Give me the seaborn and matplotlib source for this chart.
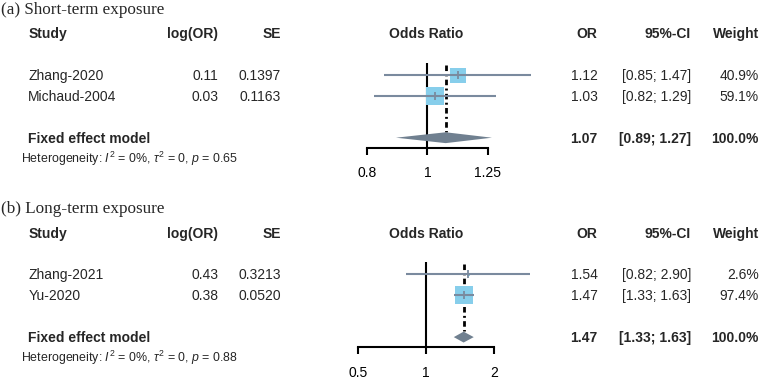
import numpy as np
import pandas as pd
import seaborn as sns
import matplotlib.pyplot as plt
from matplotlib import transforms
from matplotlib.ticker import NullLocator

# ---- data: (a) short-term exposure ----
a_title = "(a) Short-term exposure"
a_studies = ["Zhang-2020", "Michaud-2004"]
a_log_or = ["0.11", "0.03"]
a_se = ["0.1397", "0.1163"]
a_or = [1.12, 1.03]
a_lo = [0.85, 0.82]
a_hi = [1.47, 1.29]
a_weight = [40.9, 59.1]
a_fixed = [1.07, 0.89, 1.27]   # OR, lower, upper
a_p = "0.65"
a_ticks = [0.8, 1, 1.25]
a_tick_labels = ["0.8", "1", "1.25"]

# ---- data: (b) long-term exposure ----
b_title = "(b) Long-term exposure"
b_studies = ["Zhang-2021", "Yu-2020"]
b_log_or = ["0.43", "0.38"]
b_se = ["0.3213", "0.0520"]
b_or = [1.54, 1.47]
b_lo = [0.82, 1.33]
b_hi = [2.90, 1.63]
b_weight = [2.6, 97.4]
b_fixed = [1.47, 1.33, 1.63]
b_p = "0.88"
b_ticks = [0.5, 1, 2]
b_tick_labels = ["0.5", "1", "2"]

NULL_OR = 1

# ---- styling ----
W, H = 762, 379
ROW_PX = 20.88
SQUARE_COLOR = "#87CEEB"
LINE_COLOR = "#7A8A9E"
DIAMOND_COLOR = "#708090"
MAX_SQUARE_S = 170

sns.set_style("white")
plt.rcParams["font.family"] = ["Liberation Sans", "DejaVu Sans"]
plt.rcParams["mathtext.fontset"] = "custom"
plt.rcParams["mathtext.rm"] = "Liberation Sans"
plt.rcParams["mathtext.it"] = "Liberation Sans:italic"
plt.rcParams["lines.scale_dashes"] = False

fig = plt.figure(figsize=(W / 100, H / 100), dpi=100)

# column x positions in pixels
X_STUDY = 28.3
X_HET = 20.7
X_LOG = 218
X_SE = 281
X_FOREST = 426
X_OR = 597.5
X_CI = 691
X_WEIGHT = 759


def draw_panel(top_px, px_per_unit, one_px, title, studies, log_or, se, est, lo, hi,
               weight, fixed, p_val, ticks, tick_labels):
    left_px, right_px = 340, 545
    bottom_row = 5.48
    ax = fig.add_axes([left_px / W,
                       (H - (top_px + bottom_row * ROW_PX)) / H,
                       (right_px - left_px) / W,
                       (bottom_row + 0.5) * ROW_PX / H])
    ax.set_xscale("log")

    rows = [2 + i for i in range(len(studies))]
    fixed_row = rows[-1] + 2

    # null line and pooled estimate line
    ax.vlines(NULL_OR, 1.42, bottom_row, color="black", lw=1.5, zorder=1)
    ax.plot([fixed[0], fixed[0]], [1.5, fixed_row - 0.27], color="black", lw=2.0,
            dashes=[4.0, 2.4, 1.4, 2.4], zorder=1)

    df = pd.DataFrame({"or": est, "row": rows, "weight": weight})
    sizes = {w: MAX_SQUARE_S * w / max(weight) for w in weight}
    sns.scatterplot(data=df, x="or", y="row", size="weight", sizes=sizes, marker="s",
                    color=SQUARE_COLOR, linewidth=0, legend=False, ax=ax, zorder=2)
    ax.hlines(rows, lo, hi, color=LINE_COLOR, lw=1.5, zorder=3)
    ax.scatter(est, rows, marker="|", s=30, color=LINE_COLOR, linewidths=1.3, zorder=4)

    # diamond for fixed effect model
    h = 0.26
    ax.fill([fixed[1], fixed[0], fixed[2], fixed[0]],
            [fixed_row, fixed_row - h, fixed_row, fixed_row + h],
            color=DIAMOND_COLOR, lw=0, zorder=2)

    ax.set_xlim(np.exp((left_px - one_px) / px_per_unit),
                np.exp((right_px - one_px) / px_per_unit))
    ax.set_ylim(bottom_row, -0.5)
    ax.set_xticks(ticks)
    ax.set_xticklabels(tick_labels)
    ax.xaxis.set_minor_locator(NullLocator())
    ax.set_yticks([])
    ax.set_xlabel("")
    ax.set_ylabel("")
    for s in ["top", "left", "right"]:
        ax.spines[s].set_visible(False)
    ax.spines["bottom"].set_bounds(ticks[0], ticks[-1])
    ax.spines["bottom"].set_linewidth(1.5)
    ax.spines["bottom"].set_color("black")
    ax.tick_params(axis="x", length=5, width=1.5, pad=8.5, labelsize=10,
                   direction="out", colors="black", bottom=True)
    ax.set_facecolor("none")

    # table text
    tr = transforms.blended_transform_factory(fig.transFigure, ax.transData)
    off = 0.24

    def put(x_px, row, s, ha="left", weight_="normal", size=10, family=None, off_=off):
        kw = {}
        if family:
            kw["family"] = family
        ax.text(x_px / W, row + off_, s, transform=tr, ha=ha, va="baseline",
                fontsize=size, fontweight=weight_, clip_on=False, **kw)

    put(1, -1.2, title, size=12.3, family=["Liberation Serif", "DejaVu Serif"], off_=0.28)
    put(X_STUDY, 0, "Study", weight_="bold")
    put(X_LOG, 0, "log(OR)", ha="right", weight_="bold")
    put(X_SE, 0, "SE", ha="right", weight_="bold")
    put(X_FOREST, 0, "Odds Ratio", ha="center", weight_="bold")
    put(X_OR, 0, "OR", ha="right", weight_="bold")
    put(X_CI, 0, "95%-CI", ha="right", weight_="bold")
    put(X_WEIGHT, 0, "Weight", ha="right", weight_="bold")

    for r, name, lg, s_, e, l, u, w in zip(rows, studies, log_or, se, est, lo, hi, weight):
        put(X_STUDY, r, name)
        put(X_LOG, r, lg, ha="right")
        put(X_SE, r, s_, ha="right")
        put(X_OR, r, f"{e:.2f}", ha="right")
        put(X_CI, r, f"[{l:.2f}; {u:.2f}]", ha="right")
        put(X_WEIGHT, r, f"{w:.1f}%", ha="right")

    put(X_STUDY, fixed_row, "Fixed effect model", weight_="bold")
    put(X_OR, fixed_row, f"{fixed[0]:.2f}", ha="right", weight_="bold")
    put(X_CI, fixed_row, f"[{fixed[1]:.2f}; {fixed[2]:.2f}]", ha="right", weight_="bold")
    put(X_WEIGHT, fixed_row, f"{sum(weight):.1f}%", ha="right", weight_="bold")
    put(X_HET, fixed_row + 1,
        "Heterogeneity: $I^2$ = 0%, $\\tau^2$ = 0, $p$ = " + p_val, size=8.9, off_=0.21)


draw_panel(33.3, 269.8, 427.4, a_title, a_studies, a_log_or, a_se, a_or, a_lo, a_hi,
           a_weight, a_fixed, a_p, a_ticks, a_tick_labels)
draw_panel(232.7, 98.1, 425.8, b_title, b_studies, b_log_or, b_se, b_or, b_lo, b_hi,
           b_weight, b_fixed, b_p, b_ticks, b_tick_labels)

fig.savefig("out.png", dpi=100)
